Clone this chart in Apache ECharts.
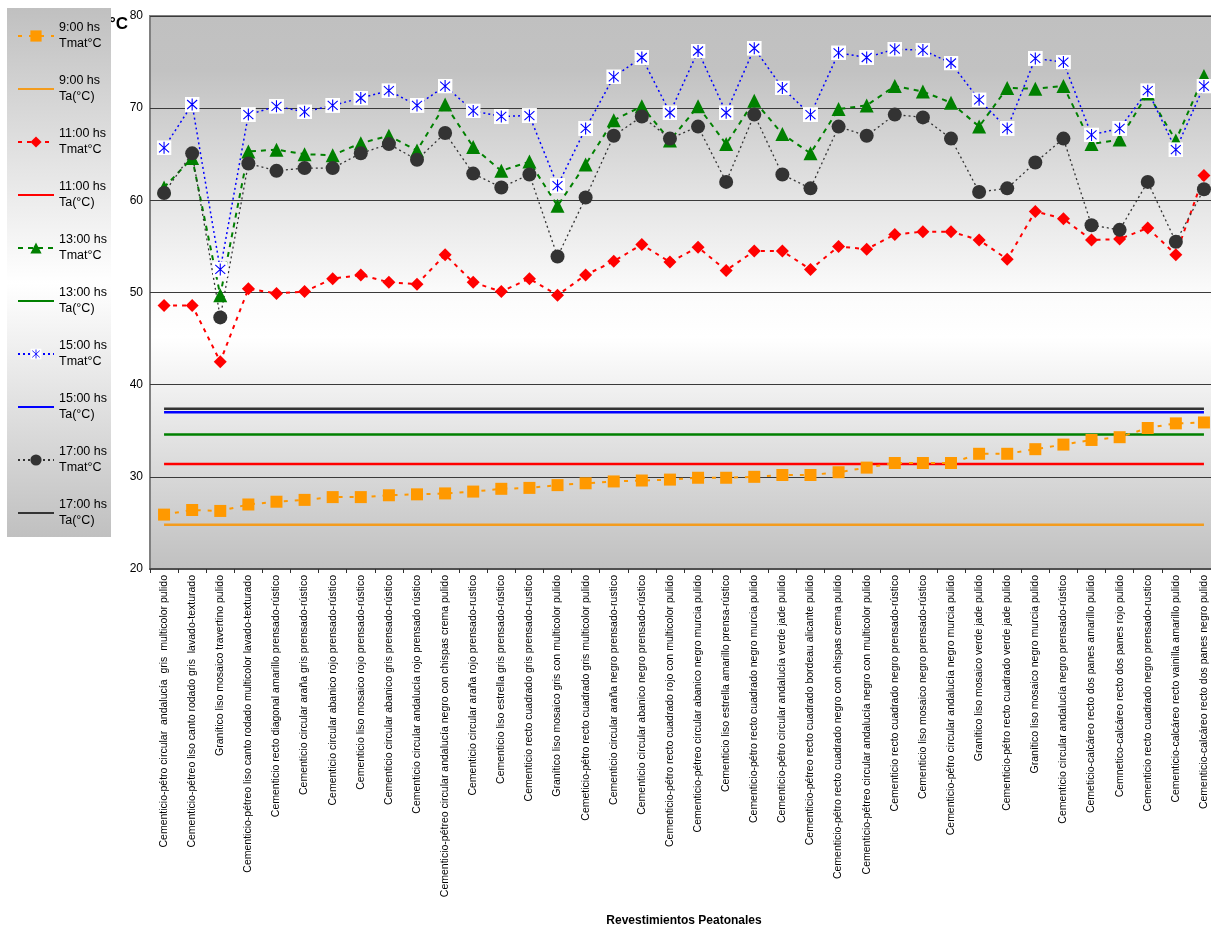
<!DOCTYPE html>
<html>
<head>
<meta charset="utf-8">
<script src="https://cdn.jsdelivr.net/npm/echarts@6/dist/echarts.min.js"></script>
<style>
  html, body { margin: 0; padding: 0; background: #ffffff; overflow: hidden; width: 1211px; height: 928px; }
  #chart { width: 1222px; height: 928px; }
</style>
</head>
<body>
<div id="chart"></div>
<script>
const categories = [
  "Cementicio-pétro circular  andalucía  gris  multicolor pulido",
  "Cementicio-pétreo liso canto rodado gris  lavado-texturado",
  "Granítico liso mosaico travertino pulido",
  "Cementicio-pétreo liso canto rodado multicolor lavado-texturado",
  "Cementicio recto diagonal amarillo prensado-rústico",
  "Cementicio circular araña gris prensado-rústico",
  "Cementicio circular abanico rojo prensado-rústico",
  "Cementicio liso mosaico rojo prensado-rústico",
  "Cementicio circular abanico gris prensado-rústico",
  "Cementicio circular andalucía rojo prensado rústico",
  "Cementicio-pétreo circular andalucía negro con chispas crema pulido",
  "Cementicio circular araña rojo prensado-rustico",
  "Cementicio liso estrella gris prensado-rústico",
  "Cementicio recto cuadrado gris prensado-rustico",
  "Granítico liso mosaico gris con multicolor pulido",
  "Cemeticio-pétro recto cuadrado gris multicolor pulido",
  "Cementicio circular araña negro prensado-rustico",
  "Cementicio circular abanico negro prensado-rústico",
  "Cementicio-pétro recto cuadrado rojo con multicolor pulido",
  "Cementicio-pétreo circular abanico negro murcia pulido",
  "Cementicio liso estrella amarillo prensa-rústico",
  "Cementicio-pétro recto cuadrado negro murcia pulido",
  "Cementicio-pétro circular andalucía verde jade pulido",
  "Cementicio-pétreo recto cuadrado bordeau alicante pulido",
  "Cementicio-pétro recto cuadrado negro con chispas crema pulido",
  "Cementicio-pétreo circular andalucía negro con multicolor pulido",
  "Cementicio recto cuadrado negro prensado-rústico",
  "Cementicio liso mosaico negro prensado-rústico",
  "Cementicio-pétro circular andalucía negro murcia pulido",
  "Granítico liso mosaico verde jade pulido",
  "Cementicio-pétro recto cuadrado verde jade pulido",
  "Granítico liso mosaico negro murcia pulido",
  "Cementicio circular andalucía negro prensado-rústico",
  "Cemeticio-calcáreo recto dos panes amarillo pulido",
  "Cemnetico-calcáreo recto dos panes rojo pulido",
  "Cementicio recto cuadrado negro prensado-rustico",
  "Cementicio-calcáreo recto vainilla amarillo pulido",
  "Cementicio-calcáreo recto dos panes negro pulido"
];

const seriesNames = [
  "9:00 hs\nTmat°C", "9:00 hs\nTa(°C)",
  "11:00 hs\nTmat°C", "11:00 hs\nTa(°C)",
  "13:00 hs\nTmat°C", "13:00 hs\nTa(°C)",
  "15:00 hs\nTmat°C", "15:00 hs\nTa(°C)",
  "17:00 hs\nTmat°C", "17:00 hs\nTa(°C)"
];

const tmat9 = [25.9,26.4,26.3,27.0,27.3,27.5,27.8,27.8,28.0,28.1,28.2,28.4,28.7,28.8,29.1,29.3,29.5,29.6,29.7,29.9,29.9,30.0,30.2,30.2,30.5,31.0,31.5,31.5,31.5,32.5,32.5,33.0,33.5,34.0,34.3,35.3,35.8,35.9];
const ta9 = [24.8,24.8,24.8,24.8,24.8,24.8,24.8,24.8,24.8,24.8,24.8,24.8,24.8,24.8,24.8,24.8,24.8,24.8,24.8,24.8,24.8,24.8,24.8,24.8,24.8,24.8,24.8,24.8,24.8,24.8,24.8,24.8,24.8,24.8,24.8,24.8,24.8,24.8];
const tmat11 = [48.6,48.6,42.5,50.4,49.9,50.1,51.5,51.9,51.1,50.9,54.1,51.1,50.1,51.5,49.7,51.9,53.4,55.2,53.3,54.9,52.4,54.5,54.5,52.5,55.0,54.7,56.3,56.6,56.6,55.7,53.6,58.8,58.0,55.7,55.8,57.0,54.1,62.7];
const ta11 = [31.4,31.4,31.4,31.4,31.4,31.4,31.4,31.4,31.4,31.4,31.4,31.4,31.4,31.4,31.4,31.4,31.4,31.4,31.4,31.4,31.4,31.4,31.4,31.4,31.4,31.4,31.4,31.4,31.4,31.4,31.4,31.4,31.4,31.4,31.4,31.4,31.4,31.4];
const tmat13 = [61.4,64.6,49.7,65.3,65.5,65.0,64.9,66.2,67.0,65.4,70.4,65.8,63.2,64.2,59.4,63.9,68.7,70.2,66.5,70.2,66.1,70.8,67.2,65.1,69.9,70.3,72.4,71.8,70.6,68.0,72.2,72.1,72.4,66.1,66.6,71.6,66.5,73.5];
const ta13 = [34.6,34.6,34.6,34.6,34.6,34.6,34.6,34.6,34.6,34.6,34.6,34.6,34.6,34.6,34.6,34.6,34.6,34.6,34.6,34.6,34.6,34.6,34.6,34.6,34.6,34.6,34.6,34.6,34.6,34.6,34.6,34.6,34.6,34.6,34.6,34.6,34.6,34.6];
const tmat15 = [65.7,70.4,52.5,69.3,70.2,69.6,70.3,71.1,71.9,70.3,72.4,69.7,69.1,69.2,61.6,67.8,73.4,75.5,69.5,76.2,69.5,76.5,72.2,69.3,76.0,75.5,76.4,76.3,74.9,70.9,67.8,75.4,75.0,67.1,67.8,71.9,65.5,72.4];
const ta15 = [37.0,37.0,37.0,37.0,37.0,37.0,37.0,37.0,37.0,37.0,37.0,37.0,37.0,37.0,37.0,37.0,37.0,37.0,37.0,37.0,37.0,37.0,37.0,37.0,37.0,37.0,37.0,37.0,37.0,37.0,37.0,37.0,37.0,37.0,37.0,37.0,37.0,37.0];
const tmat17 = [60.8,65.1,47.3,64.0,63.2,63.5,63.5,65.1,66.1,64.4,67.3,62.9,61.4,62.8,53.9,60.3,67.0,69.1,66.7,68.0,62.0,69.3,62.8,61.3,68.0,67.0,69.3,69.0,66.7,60.9,61.3,64.1,66.7,57.3,56.8,62.0,55.5,61.2];
const ta17 = [37.4,37.4,37.4,37.4,37.4,37.4,37.4,37.4,37.4,37.4,37.4,37.4,37.4,37.4,37.4,37.4,37.4,37.4,37.4,37.4,37.4,37.4,37.4,37.4,37.4,37.4,37.4,37.4,37.4,37.4,37.4,37.4,37.4,37.4,37.4,37.4,37.4,37.4];

const yTicks = [20, 30, 40, 50, 60, 70, 80];

const FONT = "'Liberation Sans', Arial, sans-serif";

const starSvg = "<svg xmlns='http://www.w3.org/2000/svg' width='30' height='30' viewBox='0 0 30 30'>" +
  "<rect x='0' y='0' width='30' height='30' fill='white'/>" +
  "<path d='M15 3 V27 M5 6 L25 24 M5 24 L25 6' stroke='%230000ff' stroke-width='2.2' fill='none'/></svg>";
const starSymbol = "image://data:image/svg+xml;charset=utf-8," + starSvg.replace(/</g, '%3C').replace(/>/g, '%3E');

const chart = echarts.init(document.getElementById('chart'), null, { renderer: 'canvas' });

function tmatSeries(name, data, color, symbol, size, dash, width, z) {
  return {
    name: name, type: 'line', data: data, z: z,
    symbol: symbol, symbolSize: size, showSymbol: true,
    itemStyle: { color: color, borderWidth: 0 },
    lineStyle: { color: color, width: width, type: dash },
    emphasis: { disabled: true }
  };
}
function taSeries(name, data, color, z) {
  return {
    name: name, type: 'line', data: data, z: z,
    symbol: 'none',
    itemStyle: { color: color },
    lineStyle: { color: color, width: 2.5, type: 'solid' },
    emphasis: { disabled: true }
  };
}

const legendData = seriesNames.map(function (n, i) {
  return i % 2 === 1 ? { name: n, itemStyle: { opacity: 0 } } : { name: n };
});

const option = {
  animation: false,
  backgroundColor: '#ffffff',
  textStyle: { fontFamily: FONT },
  graphic: [
    {
      type: 'text', left: 109, top: 16, z: 0,
      style: { text: '°C', font: 'bold 17px ' + FONT, fill: '#000' }
    },
    {
      type: 'rect', left: 7, top: 8, z: 1,
      shape: { width: 104, height: 529 },
      style: {
        fill: new echarts.graphic.LinearGradient(0, 0, 0, 1, [
          { offset: 0, color: '#c0c0c0' },
          { offset: 0.52, color: '#ffffff' },
          { offset: 1, color: '#c0c0c0' }
        ])
      }
    }
  ],
  legend: {
    orient: 'vertical',
    left: 17, top: 20,
    padding: 0,
    itemGap: 21,
    itemWidth: 36, itemHeight: 14,
    data: legendData,
    textStyle: { fontFamily: FONT, fontSize: 12.5, lineHeight: 16, color: '#000' },
    z: 5
  },
  grid: {
    left: 150, top: 16, width: 1068, height: 553,
    outerBoundsMode: 'none',
    containLabel: false,
    show: true,
    borderColor: '#808080', borderWidth: 2,
    backgroundColor: new echarts.graphic.LinearGradient(0, 0, 0, 1, [
      { offset: 0, color: '#c0c0c0' },
      { offset: 0.1, color: '#c2c2c2' },
      { offset: 0.33, color: '#e4e4e4' },
      { offset: 0.5, color: '#fbfbfb' },
      { offset: 0.58, color: '#ffffff' },
      { offset: 0.67, color: '#f1f1f1' },
      { offset: 0.83, color: '#d8d8d8' },
      { offset: 1, color: '#c0c0c0' }
    ])
  },
  xAxis: {
    type: 'category',
    data: categories,
    boundaryGap: true,
    name: 'Revestimientos Peatonales',
    nameLocation: 'middle',
    nameGap: 346,
    nameTextStyle: { fontFamily: FONT, fontSize: 12, fontWeight: 'bold', color: '#000' },
    axisLine: { show: true, lineStyle: { color: '#505050', width: 2 } },
    axisTick: { show: true, interval: 0, alignWithLabel: false, length: 4, lineStyle: { color: '#303030' } },
    axisLabel: {
      interval: 0, rotate: 90, margin: 6,
      fontFamily: FONT, fontSize: 10.5, color: '#000'
    },
    splitLine: { show: false }
  },
  yAxis: {
    type: 'value',
    min: yTicks[0], max: yTicks[yTicks.length - 1], interval: 10,
    axisLine: { show: false },
    axisTick: { show: false },
    axisLabel: { fontFamily: FONT, fontSize: 12, color: '#000', margin: 7 },
    splitLine: { show: true, lineStyle: { color: '#3a3a3a', width: 1 } }
  },
  series: [
    tmatSeries(seriesNames[0], tmat9, '#ff9900', 'rect', 12, [4, 7], 2, 3),
    taSeries(seriesNames[1], ta9, '#f39c1e', 2),
    tmatSeries(seriesNames[2], tmat11, '#ff0000', 'diamond', 13, [4, 5], 2, 2),
    taSeries(seriesNames[3], ta11, '#ff0000', 2),
    tmatSeries(seriesNames[4], tmat13, '#008000', 'triangle', 14, [5, 5], 2, 2),
    taSeries(seriesNames[5], ta13, '#008000', 2),
    tmatSeries(seriesNames[6], tmat15, '#0000ff', starSymbol, 15, [2, 3], 1.5, 2),
    taSeries(seriesNames[7], ta15, '#0000ff', 2),
    tmatSeries(seriesNames[8], tmat17, '#333333', 'circle', 14, [2, 3], 1.3, 2),
    taSeries(seriesNames[9], ta17, '#333333', 2)
  ]
};

chart.setOption(option);
</script>
</body>
</html>
